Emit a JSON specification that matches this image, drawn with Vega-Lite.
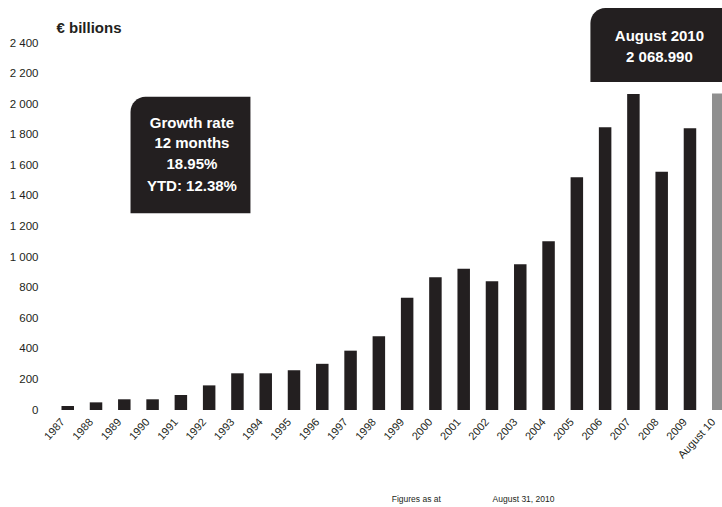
{
  "$schema": "https://vega.github.io/schema/vega-lite/v6.json",
  "width": 677,
  "height": 367,
  "autosize": {"type": "none"},
  "padding": {"left": 45, "top": 43, "right": 0, "bottom": 97},
  "background": "#ffffff",
  "config": {
    "font": "Liberation Sans",
    "view": {"stroke": null},
    "axis": {"grid": false, "ticks": false, "domain": false, "labelOverlap": false, "tickCount": 40, "labelColor": "#231f20", "titleColor": "#231f20"}
  },
  "datasets": {
    "assets": [
      {"year": 1987, "value": 26},
      {"year": 1988, "value": 50},
      {"year": 1989, "value": 70},
      {"year": 1990, "value": 70},
      {"year": 1991, "value": 98},
      {"year": 1992, "value": 161},
      {"year": 1993, "value": 240},
      {"year": 1994, "value": 240},
      {"year": 1995, "value": 260},
      {"year": 1996, "value": 302},
      {"year": 1997, "value": 388},
      {"year": 1998, "value": 482},
      {"year": 1999, "value": 734},
      {"year": 2000, "value": 868},
      {"year": 2001, "value": 924},
      {"year": 2002, "value": 842},
      {"year": 2003, "value": 953},
      {"year": 2004, "value": 1103},
      {"year": 2005, "value": 1522},
      {"year": 2006, "value": 1849},
      {"year": 2007, "value": 2067},
      {"year": 2008, "value": 1558},
      {"year": 2009, "value": 1842},
      {"year": 2010, "value": 2069}
    ],
    "boxes": [
      {"x": 1989.22, "x2": 1993.46, "y": 2049, "y2": 1286},
      {"x": 2005.48, "x2": 2011.5, "y": 2629, "y2": 2145}
    ],
    "boxtext": [
      {"x": 1991.39, "y": 1879, "text": "Growth rate"},
      {"x": 1991.39, "y": 1744, "text": "12 months"},
      {"x": 1991.39, "y": 1609, "text": "18.95%"},
      {"x": 1991.39, "y": 1465, "text": "YTD: 12.38%"},
      {"x": 2007.92, "y": 2446, "text": "August 2010"},
      {"x": 2007.92, "y": 2310, "text": "2 068.990"}
    ],
    "footer": [
      {"x": 1998.455, "y": -582, "text": "Figures as at"},
      {"x": 2002.02, "y": -582, "text": "August 31, 2010"}
    ]
  },
  "layer": [
    {
      "data": {"name": "assets"},
      "mark": {"type": "bar", "size": 12.5},
      "encoding": {
        "x": {
          "field": "year", "type": "quantitative",
          "scale": {"domain": [1986.373, 2010.5], "range": [0, 692.4], "nice": false, "zero": false},
          "axis": {
            "title": null,
            "values": [1987,1988,1989,1990,1991,1992,1993,1994,1995,1996,1997,1998,1999,2000,2001,2002,2003,2004,2005,2006,2007,2008,2009,2010],
            "tickCount": 40,
            "labelExpr": "datum.value == 2010 ? 'August 10' : '' + datum.value",
            "labelAngle": -48, "labelAlign": "right", "labelBaseline": "middle",
            "labelPadding": 10, "labelOffset": -5, "labelFontSize": 11, "labelOverlap": false, "labelBound": false
          }
        },
        "y": {
          "field": "value", "type": "quantitative",
          "scale": {"domain": [0, 2400], "nice": false},
          "axis": {
            "title": "€  billions",
            "titleAngle": 0, "titleAlign": "left", "titleBaseline": "middle",
            "titleX": 11, "titleY": -16, "titleFontSize": 15, "titleFontWeight": "bold",
            "values": [0,200,400,600,800,1000,1200,1400,1600,1800,2000,2200,2400],
            "tickCount": 40,
            "labelExpr": "replace(format(datum.value, ','), ',', ' ')",
            "labelFontSize": 11.5, "labelPadding": 7, "labelOverlap": false
          }
        },
        "color": {
          "condition": {"test": "datum.year == 2010", "value": "#8f8f8f"},
          "value": "#231f20"
        }
      }
    },
    {
      "data": {"name": "boxes"},
      "mark": {"type": "rect", "color": "#231f20", "cornerRadiusTopLeft": 15},
      "encoding": {
        "x": {"field": "x", "type": "quantitative"},
        "x2": {"field": "x2"},
        "y": {"field": "y", "type": "quantitative"},
        "y2": {"field": "y2"}
      }
    },
    {
      "data": {"name": "boxtext"},
      "mark": {"type": "text", "color": "#ffffff", "fontSize": 15, "fontWeight": "bold", "align": "center", "baseline": "middle"},
      "encoding": {
        "x": {"field": "x", "type": "quantitative"},
        "y": {"field": "y", "type": "quantitative"},
        "text": {"field": "text"}
      }
    },
    {
      "data": {"name": "footer"},
      "mark": {"type": "text", "color": "#231f20", "fontSize": 8.5, "align": "left", "baseline": "middle"},
      "encoding": {
        "x": {"field": "x", "type": "quantitative"},
        "y": {"field": "y", "type": "quantitative"},
        "text": {"field": "text"}
      }
    }
  ]
}
